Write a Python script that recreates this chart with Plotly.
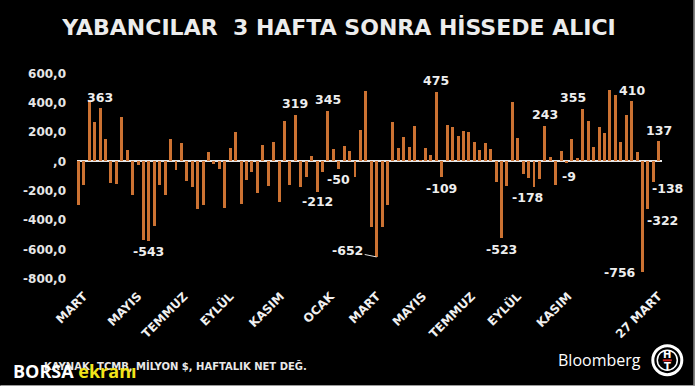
import plotly.graph_objects as go

# ---------------- data ----------------
weeks = list(range(1, 109))
net_flows = [
    -295, -160, 420, 265, 363, 155, -145, -155, 305, 80,
    -232, -22, -533, -543, -443, -160, -230, 150, -60, 122,
    -131, -172, -323, -300, 64, -18, -50, -320, 89, 202,
    -293, -127, -75, -218, 109, -166, 132, -275, 275, -161,
    319, -173, -105, 34, -212, -70, 345, 84, -50, 105,
    70, -108, 214, 480, -445, -652, -450, -298, 266, 89,
    168, 100, 241, 9, 89, 45, 475, -109, 245, 232,
    173, 207, 202, 132, 77, 123, 84, -143, -523, -166,
    407, 157, -86, -116, -178, -120, 243, 32, -161, 70,
    -9, 150, 23, 355, 277, 95, 232, 191, 486, 452,
    132, 318, 410, 64, -756, -322, -138, 137,
]

x_tick_weeks = [2, 12, 20.5, 29, 38.3, 47.5, 56, 64.5, 73.5, 82, 91.3, 107.9]
x_tick_labels = ["MART", "MAYIS", "TEMMUZ", "EYLÜL", "KASIM", "OCAK",
                 "MART", "MAYIS", "TEMMUZ", "EYLÜL", "KASIM", "27 MART"]

y_tick_vals = [600, 400, 200, 0, -200, -400, -600, -800]
y_tick_labels = ["600,0", "400,0", "200,0", ",0", "-200,0", "-400,0", "-600,0", "-800,0"]

label_weeks = [5, 14, 41, 45, 47, 49, 56, 67, 68, 79, 85, 87, 91, 94, 103, 105, 106, 107, 108]
label_texts = ["363", "-543", "319", "-212", "345", "-50", "-652", "475", "-109", "-523",
               "-178", "243", "-9", "355", "410", "-756", "-322", "-138", "137"]

# ---------------- style ----------------
W, H = 695, 386
PL, PR, PT, PB = 76.7, 661.7, 66.0, 285.9
XR = [0.75, 108.6]
YR = [-850, 650]

# label offsets (pixels): (xshift, yshift)
label_offsets = {
    56: (-29, 5), 85: (-6, -10), 94: (-10, 12), 105: (-22, 0),
    106: (15, -12), 107: (14, -7), 91: (2, -14), 45: (0, -9),
}

def px2paper_x(px):
    return (px - PL) / (PR - PL)

def px2paper_y(py):
    return (PB - py) / (PB - PT)

fig = go.Figure()
fig.add_trace(go.Bar(
    x=weeks, y=net_flows, width=0.55,
    marker=dict(color="#cc7232", line=dict(width=0)),
    hoverinfo="skip",
))

value_by_week = dict(zip(weeks, net_flows))
annotations = []
for wk, txt in zip(label_weeks, label_texts):
    v = value_by_week[wk]
    if wk in label_offsets:
        xs, ys = label_offsets[wk]
    else:
        xs, ys = 0, (11 if v >= 0 else -11)
    ann = dict(x=wk, y=v, xref="x", yref="y", text=txt, showarrow=False,
               xshift=xs, yshift=ys, xanchor="center", yanchor="middle",
               font=dict(family="DejaVu Sans", size=12.5, color="#eeeeee", weight="bold"))
    if wk == 56:
        ann.update(showarrow=True, ax=-29, ay=-6, xshift=0, yshift=0,
                   arrowhead=0, arrowwidth=1, arrowcolor="#dddddd", standoff=0)
    annotations.append(ann)

# source
annotations.append(dict(
    x=px2paper_x(41.7), y=px2paper_y(365), xref="paper", yref="paper",
    text="KAYNAK: TCMB, MİLYON $, HAFTALIK NET DEĞ.", showarrow=False,
    xanchor="left", yanchor="middle",
    font=dict(family="DejaVu Sans", size=10, color="#e8e8e8", weight="bold")))
# watermark
annotations.append(dict(
    x=px2paper_x(11), y=px2paper_y(371), xref="paper", yref="paper",
    text="BORSA <span style='color:#f2e41a'>ekranı</span>", showarrow=False,
    xanchor="left", yanchor="middle",
    font=dict(family="Open Sans", size=18, color="#ffffff", weight="bold")))
# Bloomberg
annotations.append(dict(
    x=px2paper_x(556), y=px2paper_y(360), xref="paper", yref="paper",
    text="Bloomberg", showarrow=False, xanchor="left", yanchor="middle",
    font=dict(family="Open Sans", size=16, color="#ffffff")))
# logo letters
for letter, cy in (("H", 354.5), ("T", 366)):
    annotations.append(dict(
        x=px2paper_x(667), y=px2paper_y(cy), xref="paper", yref="paper",
        text=letter, showarrow=False, xanchor="center", yanchor="middle",
        font=dict(family="DejaVu Sans", size=10, color="#ffffff", weight="bold")))

shapes = []
cxp, cyp = px2paper_x(667), px2paper_y(360)
shapes.append(dict(type="circle", xref="paper", yref="paper",
                   xsizemode="pixel", ysizemode="pixel", xanchor=cxp, yanchor=cyp,
                   x0=-14.5, x1=14.5, y0=-14.5, y1=14.5,
                   line=dict(color="#ffffff", width=3), fillcolor="#000000"))
shapes.append(dict(type="circle", xref="paper", yref="paper",
                   xsizemode="pixel", ysizemode="pixel", xanchor=cxp, yanchor=cyp,
                   x0=-10, x1=10, y0=-10, y1=10,
                   line=dict(color="#ffffff", width=1.5)))
shapes.append(dict(type="line", xref="paper", yref="paper",
                   x0=px2paper_x(662.5), x1=px2paper_x(671.5),
                   y0=px2paper_y(360.2), y1=px2paper_y(360.2),
                   line=dict(color="#d02020", width=2)))
# frame lines (bottom, right)
shapes.append(dict(type="line", xref="paper", yref="paper",
                   x0=px2paper_x(0), x1=px2paper_x(W), y0=px2paper_y(385.5), y1=px2paper_y(385.5),
                   line=dict(color="#9a9a9a", width=1.5)))
shapes.append(dict(type="line", xref="paper", yref="paper",
                   x0=px2paper_x(693.8), x1=px2paper_x(693.8), y0=px2paper_y(0), y1=px2paper_y(H),
                   line=dict(color="#9a9a9a", width=1.5)))

fig.update_layout(
    width=W, height=H,
    margin=dict(l=PL, r=W - PR, t=PT, b=H - PB, pad=0),
    paper_bgcolor="#000000", plot_bgcolor="#000000",
    showlegend=False,
    bargap=0,
    title=dict(text="<b>YABANCILAR&nbsp; 3 HAFTA SONRA HİSSEDE ALICI</b>",
               x=339 / W, xanchor="center", xref="container",
               y=1 - 27.5 / H, yanchor="middle", yref="container",
               font=dict(family="DejaVu Sans", size=22, color="#ececec")),
    xaxis=dict(range=XR, showgrid=False, zeroline=False, showline=False,
               tickmode="array", tickvals=x_tick_weeks, ticktext=x_tick_labels,
               tickangle=-45, ticks="",
               tickfont=dict(family="DejaVu Sans", size=12, color="#f0f0f0", weight="bold")),
    yaxis=dict(range=YR, showgrid=False, zeroline=True, zerolinecolor="#e6e6e6",
               zerolinewidth=2, showline=False,
               tickmode="array", tickvals=y_tick_vals, ticktext=y_tick_labels,
               ticks="", ticklabelstandoff=10,
               tickfont=dict(family="DejaVu Sans", size=12, color="#e6e6e6", weight="bold")),
    annotations=annotations,
    shapes=shapes,
)

fig.write_html(
    "out.html",
    config={"displayModeBar": False, "staticPlot": True},
    post_script="document.body.style.margin='0';document.body.style.background='#000';",
)
